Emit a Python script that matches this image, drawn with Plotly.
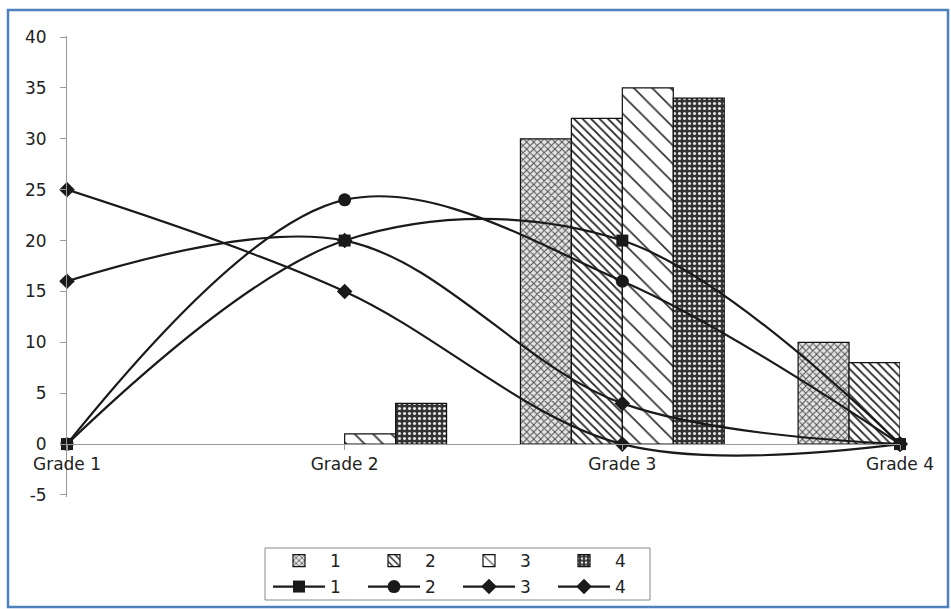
import plotly.graph_objects as go

# ---- data ----
grades = ["Grade 1", "Grade 2", "Grade 3", "Grade 4"]
series_names = ["1", "2", "3", "4"]

bar_1 = [0, 0, 30, 10]
bar_2 = [0, 0, 32, 8]
bar_3 = [0, 1, 35, 0]
bar_4 = [0, 4, 34, 0]

line_1 = [0, 20, 20, 0]
line_2 = [0, 24, 16, 0]
line_3 = [16, 20, 4, 0]
line_4 = [25, 15, 0, 0]

y_ticks = [-5, 0, 5, 10, 15, 20, 25, 30, 35, 40]

# ---- page geometry (pixels) ----
W, H = 951, 609
PLOT_L, PLOT_R = 67, 900
PLOT_T, PLOT_B = 36, 497
Y_MIN, Y_MAX = -5.2, 40.1


def px_x(p):
    return (p - PLOT_L) / (PLOT_R - PLOT_L)


def px_y(p):
    return (PLOT_B - p) / (PLOT_B - PLOT_T)


FONT = "DejaVu Sans, Arial, sans-serif"
FONT_SIZE = 17
INK = "#222222"
AXIS_GREY = "#9a9a9a"

fig = go.Figure()

bar_values = [bar_1, bar_2, bar_3, bar_4]
bar_patterns = [
    dict(shape="x", size=5, solidity=0.35, fgcolor="#4a4a4a", bgcolor="#e4e4e4"),
    dict(shape="\\", size=6, solidity=0.3, fgcolor="#222222", bgcolor="#ffffff"),
    dict(shape="\\", size=13, solidity=0.13, fgcolor="#333333", bgcolor="#ffffff"),
    dict(shape=".", size=5, solidity=0.3, fgcolor="#e6e6e6", bgcolor="#333333"),
]
for name, vals, pat in zip(series_names, bar_values, bar_patterns):
    # empty (zero-height) bars are left undrawn
    fig.add_trace(go.Bar(
        x=grades, y=[v if v else None for v in vals], name=name,
        marker=dict(color="#ffffff", line=dict(color="#111111", width=1.2),
                    pattern=dict(fillmode="replace", **pat)),
        legend="legend",
    ))

line_values = [line_1, line_2, line_3, line_4]
line_symbols = ["square", "circle", "diamond", "diamond"]
line_sizes = [12, 13, 12, 12]
for name, vals, sym, sz in zip(series_names, line_values, line_symbols, line_sizes):
    fig.add_trace(go.Scatter(
        x=grades, y=vals, name=name, mode="lines+markers",
        line=dict(color="#1a1a1a", width=2.2, shape="spline", smoothing=1.0),
        marker=dict(symbol=sym, size=sz, color="#1a1a1a"),
        cliponaxis=False,
        legend="legend2",
    ))

zero_pos = (0 - Y_MIN) / (Y_MAX - Y_MIN)

legend_common = dict(
    orientation="h", xanchor="left", yanchor="middle",
    xref="container", yref="container",
    font=dict(family=FONT, size=FONT_SIZE, color=INK),
    bgcolor="rgba(0,0,0,0)", borderwidth=0,
    itemwidth=52, entrywidth=28, entrywidthmode="pixels",
    tracegroupgap=0, itemclick=False,
)

fig.update_layout(
    width=W, height=H,
    margin=dict(l=PLOT_L, r=W - PLOT_R, t=PLOT_T, b=H - PLOT_B, pad=0,
                autoexpand=False),
    paper_bgcolor="#ffffff", plot_bgcolor="#ffffff",
    barmode="group", bargap=0.266, bargroupgap=0,
    font=dict(family=FONT, size=FONT_SIZE, color=INK),
    xaxis=dict(
        type="category", categoryorder="array", categoryarray=grades,
        range=[0, 3], anchor="free", position=zero_pos,
        showline=True, linecolor=AXIS_GREY, linewidth=1,
        ticks="outside", ticklen=5, tickcolor=AXIS_GREY,
        showgrid=False, zeroline=False,
        tickfont=dict(family=FONT, size=FONT_SIZE, color=INK),
    ),
    yaxis=dict(
        range=[Y_MIN, Y_MAX], tickvals=y_ticks,
        ticktext=[str(v) for v in y_ticks],
        showline=True, linecolor=AXIS_GREY, linewidth=1,
        ticks="outside", ticklen=6, tickcolor=AXIS_GREY,
        showgrid=False, zeroline=False, ticklabelstandoff=10,
        tickfont=dict(family=FONT, size=FONT_SIZE, color=INK),
    ),
    legend=dict(x=268 / W, y=1 - 561 / H, **legend_common),
    legend2=dict(x=268 / W, y=1 - 587 / H, **legend_common),
    showlegend=True,
    shapes=[
        # legend frame
        dict(type="rect", xref="paper", yref="paper",
             x0=px_x(265), x1=px_x(650), y0=px_y(600), y1=px_y(548),
             line=dict(color="#8a8a8a", width=1), fillcolor="rgba(0,0,0,0)",
             layer="below"),
        # outer blue frame
        dict(type="rect", xref="paper", yref="paper",
             x0=px_x(8), x1=px_x(948), y0=px_y(607), y1=px_y(10),
             line=dict(color="#4F81BD", width=2.5), fillcolor="rgba(0,0,0,0)",
             layer="below"),
    ],
)

fig.write_html("out.html")
